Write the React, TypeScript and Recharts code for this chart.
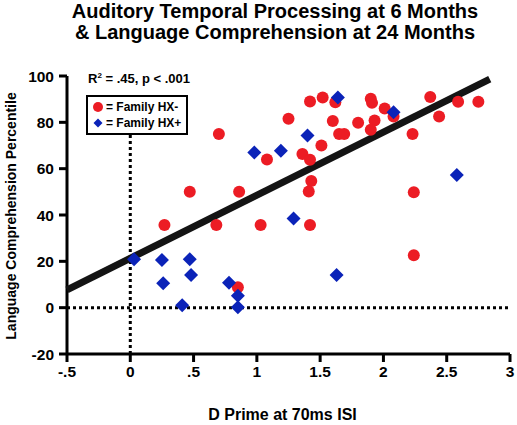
import React from 'react';
import { ScatterChart, Scatter, XAxis, YAxis, ReferenceLine } from 'recharts';

// Family HX- (red circles)
const hxNegX = [0.70, 1.08, 1.25, 0.47, 0.86, 1.42, 1.52, 1.62, 1.60, 1.80, 1.65, 1.69, 1.51, 1.36, 1.42, 1.43, 1.41, 1.90, 1.91, 2.01, 2.08, 1.93, 1.90, 2.37, 2.59, 2.75, 2.44, 2.23, 2.24, 2.24, 0.27, 0.68, 1.03, 1.42, 0.85];
const hxNegY = [75, 64, 81.5, 50, 50, 89, 90.7, 88.7, 80.6, 79.8, 75, 75, 70, 66.3, 63.8, 54.7, 50.1, 90.2, 88.4, 86, 82.5, 80.8, 76.8, 90.9, 88.9, 88.9, 82.5, 75, 49.8, 22.6, 35.7, 35.7, 35.7, 35.7, 8.8];

// Family HX+ (blue diamonds)
const hxPosX = [1.64, 2.08, 1.40, 1.19, 0.98, 1.29, 2.58, 1.63, 0.03, 0.25, 0.47, 0.26, 0.48, 0.78, 0.85, 0.85, 0.41];
const hxPosY = [90.7, 84.3, 74.3, 67.7, 67, 38.5, 57.3, 14.1, 20.9, 20.6, 20.9, 10.5, 14.1, 10.8, 5.1, 0.2, 1];

// regression line end points
const trendX = [-0.5, 2.84];
const trendY = [7.7, 98.7];

const xTicks = [-0.5, 0, 0.5, 1, 1.5, 2, 2.5, 3];
const yTicks = [-20, 0, 20, 40, 60, 80, 100];

const RED = '#ec1c24';
const BLUE = '#0b23b8';
const FONT = '"Liberation Sans", Arial, Helvetica, sans-serif';

const hxNeg = hxNegX.map((x, i) => ({ x, y: hxNegY[i] }));
const hxPos = hxPosX.map((x, i) => ({ x, y: hxPosY[i] }));
const trend = trendX.map((x, i) => ({ x, y: trendY[i] }));

const fmtX = (v: number) => String(v).replace(/^(-?)0\./, '$1.');

const RedDot = (props: any) => <circle cx={props.cx} cy={props.cy} r={6} fill={RED} />;

const BlueDiamond = (props: any) => {
  const { cx, cy } = props;
  const s = 7;
  return <polygon points={`${cx},${cy - s} ${cx + s},${cy} ${cx},${cy + s} ${cx - s},${cy}`} fill={BLUE} />;
};

const tickStyle = { fontSize: 15.5, fontWeight: 700, fill: '#000', fontFamily: FONT };

const App: React.FC = () => {
  return (
    <div style={{ position: 'absolute', left: 0, top: 0, width: 517, height: 425, fontFamily: FONT, background: '#fff' }}>
      <div style={{ position: 'absolute', left: 0, top: 1, width: 550, textAlign: 'center', fontSize: 20, fontWeight: 700, lineHeight: '21px' }}>
        Auditory Temporal Processing at 6 Months
        <br />
        &amp; Language Comprehension at 24 Months
      </div>

      <ScatterChart width={517} height={425} margin={{ top: 76, right: 7, bottom: 41, left: 27 }}>
        <XAxis
          type="number"
          dataKey="x"
          domain={[-0.5, 3]}
          ticks={xTicks}
          tickFormatter={fmtX}
          height={30}
          tickSize={8}
          tickMargin={4}
          axisLine={{ stroke: '#000', strokeWidth: 3 }}
          tickLine={{ stroke: '#000', strokeWidth: 3 }}
          tick={tickStyle}
          interval={0}
        />
        <YAxis
          type="number"
          dataKey="y"
          domain={[-20, 100]}
          ticks={yTicks}
          width={40}
          tickSize={8}
          tickMargin={5}
          axisLine={{ stroke: '#000', strokeWidth: 3 }}
          tickLine={{ stroke: '#000', strokeWidth: 3 }}
          tick={tickStyle}
          interval={0}
        />
        <ReferenceLine y={0} stroke="#000" strokeWidth={3} strokeDasharray="3 3" />
        <ReferenceLine segment={[{ x: 0, y: -20 }, { x: 0, y: 74.6 }]} stroke="#000" strokeWidth={3} strokeDasharray="3 3" />
        <Scatter data={trend} line={{ stroke: '#141414', strokeWidth: 7 }} shape={() => null} isAnimationActive={false} />
        <Scatter data={hxNeg} shape={RedDot} isAnimationActive={false} />
        <Scatter data={hxPos} shape={BlueDiamond} isAnimationActive={false} />
      </ScatterChart>

      <div style={{ position: 'absolute', left: 88, top: 71, fontSize: 13, fontWeight: 700, whiteSpace: 'nowrap' }}>
        R<sup style={{ fontSize: 8 }}>2</sup> = .45, p &lt; .001
      </div>

      <div style={{ position: 'absolute', left: 86, top: 95, width: 102, height: 40, boxSizing: 'border-box', border: '2px solid #000', background: '#fff', fontSize: 12, fontWeight: 700, whiteSpace: 'nowrap' }}>
        <div style={{ position: 'absolute', left: 4, top: 3, display: 'flex', alignItems: 'center' }}>
          <svg width={12} height={12}><circle cx={6} cy={6} r={5} fill={RED} /></svg>
          <span style={{ marginLeft: 2 }}>= Family HX-</span>
        </div>
        <div style={{ position: 'absolute', left: 4, top: 19, display: 'flex', alignItems: 'center' }}>
          <svg width={12} height={12}><polygon points="6,1.5 10.5,6 6,10.5 1.5,6" fill={BLUE} /></svg>
          <span style={{ marginLeft: 2 }}>= Family HX+</span>
        </div>
      </div>

      <div style={{ position: 'absolute', left: 11, top: 216, width: 0, height: 0 }}>
        <div style={{ position: 'absolute', transform: 'translate(-50%, -50%) rotate(-90deg)', whiteSpace: 'nowrap', fontSize: 14, fontWeight: 700 }}>
          Language Comprehension Percentile
        </div>
      </div>

      <div style={{ position: 'absolute', left: 0, top: 406, width: 565, textAlign: 'center', fontSize: 16, fontWeight: 700 }}>
        D Prime at 70ms ISI
      </div>
    </div>
  );
};

export default App;
